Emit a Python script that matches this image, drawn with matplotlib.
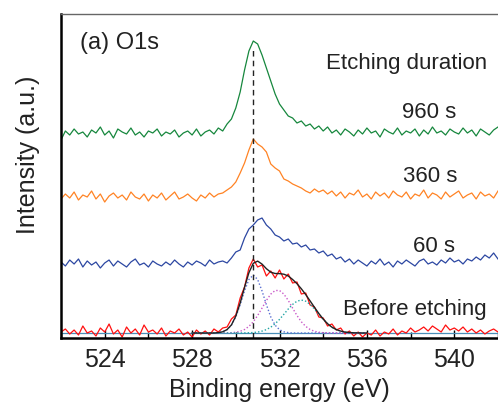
import numpy as np
import matplotlib
matplotlib.use("Agg")
import matplotlib.pyplot as plt
from matplotlib.ticker import MultipleLocator

plt.rcParams['font.family'] = ['Liberation Sans', 'DejaVu Sans']

# binding energy grid (eV), 0.2 eV step
energy = np.arange(522.0, 542.001, 0.2)

# measured spectra (arbitrary units, stacked offsets already included)
s960 = [198, 207, 203, 209, 204, 206, 201, 208, 205, 211,
        203, 207, 200, 209, 206, 204, 210, 203, 206, 201,
        207, 205, 209, 202, 206, 204, 208, 201, 205, 207,
        203, 209, 202, 206, 208, 204, 210,
        207, 214, 219, 230, 246, 268, 287, 297, 294, 283, 270, 257,
        244, 234, 228, 222, 220, 215, 217, 212, 214, 209, 212, 207,
        211, 205, 208, 203, 209, 206, 202, 208, 204, 210,
        205, 207, 201, 209, 206, 204, 210, 203, 207, 205,
        209, 202, 208, 204, 211, 205, 207, 203, 209, 206,
        204, 210, 205, 208, 202, 209, 206, 203, 208, 211]
s360 = [139, 144, 140, 146, 138, 143, 141, 147, 139, 144,
        136, 142, 145, 140, 143, 138, 146, 141, 139, 144,
        137, 143, 140, 145, 138, 142, 146, 139, 141, 144,
        140, 137, 143, 140, 145, 141, 144,
        145, 148, 151, 156, 165, 175, 188, 199, 194, 191, 186, 174,
        170, 167, 159, 157, 154, 152, 150, 147, 145, 149, 146, 148,
        144, 147, 142, 146, 140, 145, 143, 148, 141, 144,
        139, 146, 142, 145, 140, 147, 143, 141, 146, 139,
        144, 142, 148, 140, 145, 143, 139, 146, 141, 144,
        147, 140, 143, 145, 139, 146, 142, 144, 140, 147]
s60 = [76, 72, 78, 74, 79, 71, 77, 73, 76, 70,
       75, 78, 72, 77, 74, 71, 76, 79, 73, 75,
       71, 77, 74, 72, 76, 73, 78, 74, 71, 76,
       73, 77, 75, 72, 78, 74, 76,
       77, 75, 80, 86, 88, 100, 109, 113, 118, 120, 113, 109, 103,
       101, 97, 99, 94, 95, 91, 93, 88, 89, 85, 87, 82,
       84, 79, 81, 76, 79, 74, 78, 75, 72, 77,
       74, 79, 73, 76, 71, 77, 74, 78, 75, 72,
       77, 79, 74, 76, 73, 78, 75, 80, 76, 78,
       74, 79, 77, 81, 78, 83, 80, 85, 79]
s0 = [6, 9, 4, 8, 3, 12, 5, 7, 2, 10,
      6, 14, 4, 8, 1, 11, 5, 9, 3, 13,
      6, 8, 4, 10, 2, 7, 5, 9, 3, 6,
      1, 8, 4, 7, 3, 9, 6,
      10, 11, 19, 23, 40, 51, 70, 79, 71, 73, 62, 67, 60, 68,
      59, 64, 55, 56, 44, 45, 33, 31, 21, 20, 12, 14, 8, 10,
      4, 7, 2, 6, 1, 5, 3, 8, 2, 6,
      4, 9, 3, 7, 5, 10, 6, 8, 11, 7,
      12, 9, 6, 13, 8, 10, 7, 11, 6, 9,
      5, 8, 4, 7, 9, 6]

# fitted components of the "before etching" O1s peak (528-536 eV)
fit_energy = np.arange(528.0, 536.001, 0.2)
background = 5
comp_a = [5] * 6 + [5.4, 6.2, 8.3, 12.8, 21.1, 33.3, 47.1, 58.5, 63, 58.5,
                    47.1, 33.3, 21.1, 12.8, 8.3, 6.2, 5.4] + [5] * 18
comp_b = [5] * 8 + [5.1, 5.3, 5.8, 6.7, 8.5, 11.6, 16.2, 22.5, 29.9, 37.6,
                    43.9, 47.5, 47.5, 43.9, 37.6, 29.9, 22.5, 16.2, 11.6,
                    8.5, 6.7, 5.8, 5.3, 5.1] + [5] * 9
comp_c = [5] * 12 + [5.1, 5.2, 5.5, 5.9, 6.9, 8.4, 10.8, 14.2, 18.6, 23.7,
                     29.0, 33.6, 36.8, 38.0, 36.8, 33.6, 29.0, 23.7, 18.6,
                     14.2, 10.8, 8.4, 6.9, 5.9, 5.5, 5.2, 5.1, 5.0] + [5]
fit_total = np.array(comp_a) + np.array(comp_b) + np.array(comp_c) - 2 * background

peak_pos = 530.8

fig = plt.figure(figsize=(4.98, 4.08), dpi=100)
ax = fig.add_axes([61 / 498, 70 / 408, 437 / 498, 324 / 408])

ax.plot(energy, s960, color='#16873d', lw=0.9)
ax.plot(energy, s360, color='#ff8324', lw=0.9)
ax.plot(energy, s60, color='#2c47a2', lw=0.9)

ax.axhline(background, color='#4a8fb8', lw=0.9)
ax.plot(energy, s0, color='#ff1010', lw=0.9)
ax.plot(fit_energy, comp_a, color='#5b70d2', lw=1.0, ls=(0, (1, 1.5)))
ax.plot(fit_energy, comp_b, color='#c95ac9', lw=1.0, ls=(0, (1, 1.5)))
ax.plot(fit_energy, comp_c, color='#23a5a5', lw=1.0, ls=(0, (1, 1.5)))
ax.plot(fit_energy, fit_total, color='#222222', lw=1.0)

ax.plot([peak_pos, peak_pos], [0, 290], color='#222222', lw=1.0, ls=(0, (4, 3)))

ax.set_xlim(522, 542)
ax.set_ylim(0, 324)
ax.set_yticks([])
ax.xaxis.set_major_locator(MultipleLocator(4))
ax.xaxis.set_minor_locator(MultipleLocator(2))
ax.tick_params(axis='x', which='major', direction='in', length=6, width=1,
               labelsize=18, labelcolor='#222222', pad=7)
ax.tick_params(axis='x', which='minor', direction='in', length=4, width=1)

ax.spines['left'].set_linewidth(1.8)
ax.spines['bottom'].set_linewidth(1.8)
ax.spines['top'].set_linewidth(1.0)
ax.spines['top'].set_color('#666666')
ax.spines['right'].set_visible(False)

def px(x, y):
    return x / 498, 1 - y / 408

txt = dict(color='#222222', va='center')
fig.text(*px(279, 390), 'Binding energy (eV)', fontsize=18, ha='center', **txt)
fig.text(*px(28, 155), 'Intensity (a.u.)', fontsize=18, ha='center',
         rotation=90, **txt)
fig.text(*px(80, 43), '(a) O1s', fontsize=17, ha='left', **txt)
fig.text(*px(487, 63), 'Etching duration', fontsize=16, ha='right', **txt)
fig.text(*px(402, 112), '960 s', fontsize=16, ha='left', **txt)
fig.text(*px(403, 177), '360 s', fontsize=16, ha='left', **txt)
fig.text(*px(413, 247), '60 s', fontsize=16, ha='left', **txt)
fig.text(*px(343, 310), 'Before etching', fontsize=16, ha='left', **txt)

fig.savefig('out.png', dpi=100)
